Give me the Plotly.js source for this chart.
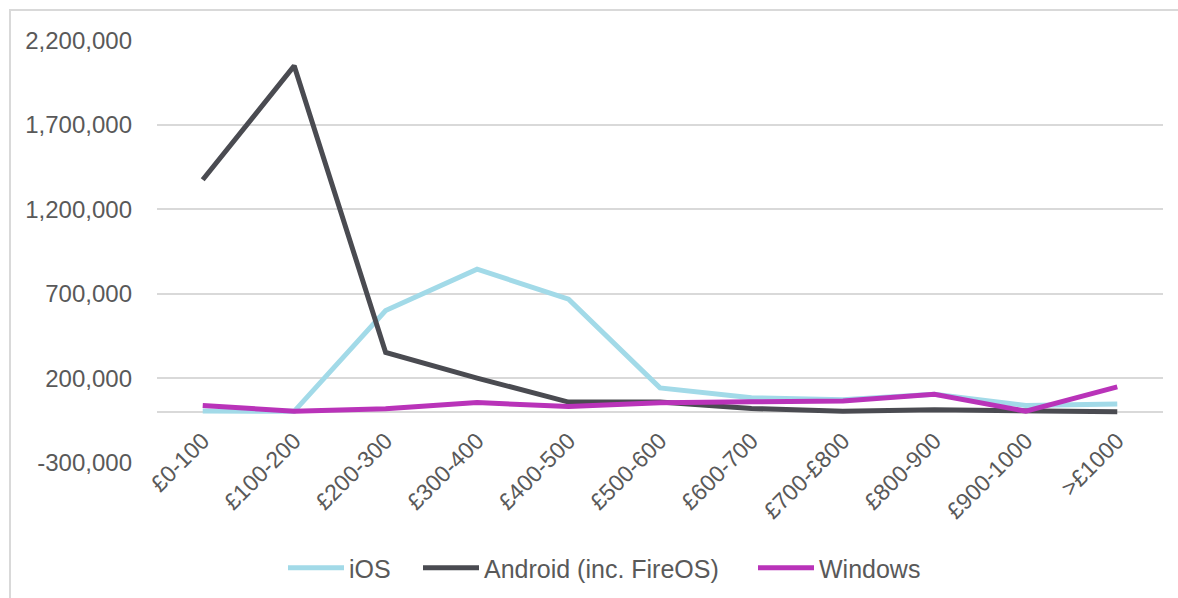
<!DOCTYPE html>
<html>
<head>
<meta charset="utf-8">
<script src="https://cdn.plot.ly/plotly-3.0.1.min.js"></script>
<style>
  html, body { margin: 0; padding: 0; background: #fff; }
  #wrap { position: relative; width: 1178px; height: 598px; overflow: hidden; }
  #chart { position: absolute; left: 0; top: 0; width: 1178px; height: 598px; }
  #frame { position: absolute; left: 9px; top: 9px; width: 1300px; height: 700px;
           border-left: 2px solid #d9d9d9; border-top: 2px solid #d9d9d9; pointer-events: none; }
</style>
</head>
<body>
<div id="wrap">
  <div id="chart"></div>
  <div id="frame"></div>
</div>
<script>
const categories = ['£0-100', '£100-200', '£200-300', '£300-400', '£400-500', '£500-600',
                    '£600-700', '£700-£800', '£800-900', '£900-1000', '>£1000'];
const iosValues = [5000, 3000, 600000, 845000, 668000, 142000, 84000, 72000, 104000, 38000, 46000];
const androidValues = [1375000, 2050000, 352000, 200000, 58000, 58000, 20000, 3000, 12000, 3000, 1000];
const windowsValues = [38000, 4000, 18000, 55000, 32000, 54000, 60000, 64000, 104000, 4000, 148000];
const yTickVals = [-300000, 200000, 700000, 1200000, 1700000, 2200000];
const yTickText = ['-300,000', '200,000', '700,000', '1,200,000', '1,700,000', '2,200,000'];

const traces = [
  { name: 'iOS', x: categories, y: iosValues, type: 'scatter', mode: 'lines', legend: 'legend',
    line: { color: '#a2dae8', width: 5 } },
  { name: 'Android (inc. FireOS)', x: categories, y: androidValues, type: 'scatter', mode: 'lines', legend: 'legend2',
    line: { color: '#4a4b51', width: 5 } },
  { name: 'Windows', x: categories, y: windowsValues, type: 'scatter', mode: 'lines', legend: 'legend3',
    line: { color: '#b933b9', width: 5 } }
];

const yMin = -303000, yMax = 2203000;
const zeroPos = (0 - yMin) / (yMax - yMin);
const W = 1178, H = 598;
function leg(px) {
  return { orientation: 'h', x: px / W, xanchor: 'left', xref: 'container', y: 1 - 568 / H, yref: 'container',
           yanchor: 'middle', font: { size: 25, color: '#595959' }, itemwidth: 56, bgcolor: 'rgba(0,0,0,0)' };
}

const layout = {
  width: W, height: H,
  margin: { l: 157, r: 15, t: 39.5, b: 134.5 },
  paper_bgcolor: '#ffffff', plot_bgcolor: '#ffffff',
  font: { family: 'Liberation Sans, Arial, sans-serif', size: 23, color: '#595959' },
  showlegend: true,
  legend: leg(283),
  legend2: leg(418),
  legend3: leg(753),
  xaxis: { type: 'category', range: [-0.5, 10.5], tickangle: -45, showgrid: false, zeroline: false,
           anchor: 'free', position: zeroPos, ticklabelstandoff: 10,
           showline: false, ticks: '', tickfont: { size: 23, color: '#595959' }, fixedrange: true },
  yaxis: { range: [yMin, yMax], tickvals: yTickVals, ticktext: yTickText, showgrid: true,
           gridcolor: '#d9d9d9', gridwidth: 2, zeroline: true, zerolinecolor: '#d9d9d9', zerolinewidth: 2,
           showline: false, ticks: '', ticklabelstandoff: 24, tickfont: { size: 24, color: '#595959' }, fixedrange: true }
};

Plotly.newPlot('chart', traces, layout, { displayModeBar: false, staticPlot: true });
</script>
</body>
</html>
